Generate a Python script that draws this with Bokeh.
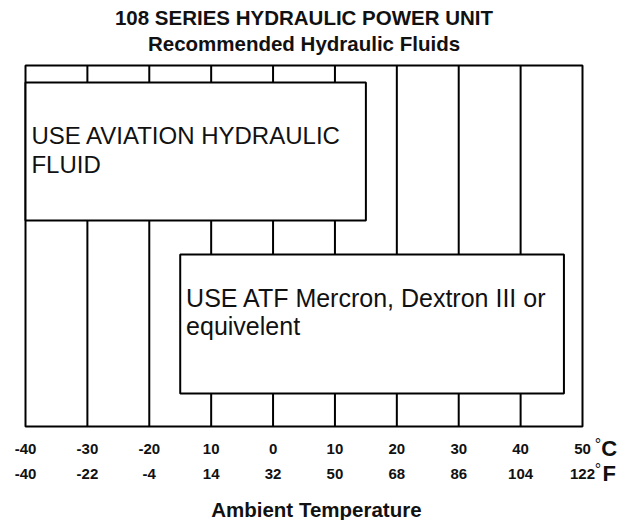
from bokeh.plotting import figure
from bokeh.models import Range1d, Label
from bokeh.core.properties import value
from bokeh.embed import file_html
from bokeh.resources import INLINE

# ---- data ----
temps_c = [-40, -30, -20, -10, 0, 10, 20, 30, 40, 50]
c_labels = ["-40", "-30", "-20", "10", "0", "10", "20", "30", "40", "50"]
f_labels = ["-40", "-22", "-4", "14", "32", "50", "68", "86", "104", "122"]
fluid_lines = [["USE AVIATION HYDRAULIC", "FLUID"],
               ["USE ATF Mercron, Dextron III or", "equivelent"]]
fluid_min_c = [-40, -15]
fluid_max_c = [15, 47]

FONT = "Liberation Sans"
INK = "#111111"

# scale: -40 C -> 25 px, 50 C -> 582 px ; chart bottom (y=0) -> 426 px
PX = (582 - 25) / 90.0
W, H = 628, 520
p = figure(width=W, height=H,
           x_range=Range1d(-40 - 25 / PX, 50 + (W - 582) / PX),
           y_range=Range1d(-(H - 426), 426),
           output_backend="svg", toolbar_location=None,
           x_axis_type=None, y_axis_type=None,
           min_border=0)
p.outline_line_color = None
p.xgrid.visible = False
p.ygrid.visible = False
p.background_fill_color = "white"
p.border_fill_color = "white"

TOP = 361  # chart frame height in y units

# column lines
p.segment(x0=temps_c[1:-1], x1=temps_c[1:-1], y0=[0] * 8, y1=[TOP] * 8,
          line_color="black", line_width=2)
# chart frame
p.quad(left=[temps_c[0]], right=[temps_c[-1]], bottom=[0], top=[TOP],
       fill_color=None, line_color="black", line_width=2)

# fluid boxes (white fill covers the column lines)
box_bottom = [206, 33]
box_top = [344, 172]
p.quad(left=fluid_min_c, right=fluid_max_c, bottom=box_bottom, top=box_top,
       fill_color="white", line_color="black", line_width=2)

# box texts
text_y = [[291, 262], [129, 101]]
text_sizes = ["24px", "25px"]
for i, lines in enumerate(fluid_lines):
    for j, t in enumerate(lines):
        p.text(x=[fluid_min_c[i] + 0.95], y=[text_y[i][j]], text=[t],
               text_align="left", text_baseline="middle",
               text_font=value(FONT), text_font_size=text_sizes[i],
               text_color=INK)

# tick labels (two temperature scales)
for labels, yy in [(c_labels, -22), (f_labels, -47)]:
    p.text(x=temps_c, y=[yy] * len(temps_c), text=labels,
           text_align="center", text_baseline="middle",
           text_font=value(FONT), text_font_style="bold",
           text_font_size="15px", text_color=INK)

# unit marks
for yy, u in [(-22, "C"), (-47, "F")]:
    p.add_layout(Label(x=52.5, y=yy + 4, text="°", text_align="center", text_baseline="middle",
                       text_font=FONT, text_font_size="16px", text_color=INK))
    p.add_layout(Label(x=54.3, y=yy, text=u, text_align="center", text_baseline="middle",
                       text_font=FONT, text_font_style="bold", text_font_size="22px",
                       text_color=INK))

# titles
p.add_layout(Label(x=5, y=409, text="108 SERIES HYDRAULIC POWER UNIT", text_align="center",
                   text_baseline="middle", text_font=FONT, text_font_style="bold",
                   text_font_size="20.5px", text_color=INK))
p.add_layout(Label(x=5, y=383, text="Recommended Hydraulic Fluids", text_align="center",
                   text_baseline="middle", text_font=FONT, text_font_style="bold",
                   text_font_size="20.5px", text_color=INK))
p.add_layout(Label(x=7, y=-82.5, text="Ambient Temperature", text_align="center",
                   text_baseline="middle", text_font=FONT, text_font_style="bold",
                   text_font_size="20.5px", text_color=INK))

open("out.html", "w").write(file_html(p, INLINE))
